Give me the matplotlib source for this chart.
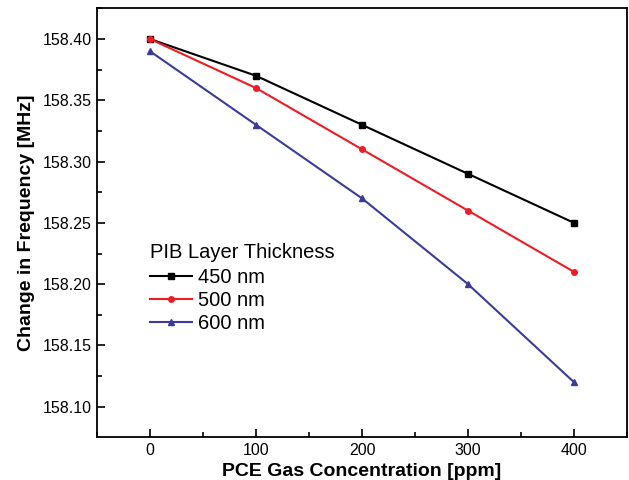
import matplotlib
matplotlib.use("Agg")
import matplotlib.pyplot as plt
from matplotlib.ticker import MultipleLocator, FormatStrFormatter

plt.rcParams['font.family'] = ['Liberation Sans', 'DejaVu Sans']

conc = [0, 100, 200, 300, 400]
f450 = [158.40, 158.37, 158.33, 158.29, 158.25]
f500 = [158.40, 158.36, 158.31, 158.26, 158.21]
f600 = [158.39, 158.33, 158.27, 158.20, 158.12]
labels = ['450 nm', '500 nm', '600 nm']

fig = plt.figure(figsize=(6.29, 4.8), dpi=100)
ax = fig.add_axes([97/629, 1-437/480, 530/629, 429/480])

ax.plot(conc, f450, color='black', marker='s', ms=4, lw=1.5, label=labels[0])
ax.plot(conc, f500, color='#ee1c24', marker='o', ms=4, lw=1.5, label=labels[1])
ax.plot(conc, f600, color='#3b3b9c', marker='^', ms=4.5, lw=1.5, label=labels[2])

ax.set_xlim(-50, 450)
ax.set_ylim(158.0753, 158.4253)
ax.xaxis.set_major_locator(MultipleLocator(100))
ax.xaxis.set_minor_locator(MultipleLocator(50))
ax.yaxis.set_major_locator(MultipleLocator(0.05))
ax.yaxis.set_minor_locator(MultipleLocator(0.025))
ax.yaxis.set_major_formatter(FormatStrFormatter('%.2f'))
ax.tick_params(which='both', direction='in', top=False, right=False, labelsize=11.5, width=1.2)
ax.tick_params(which='major', length=6, pad=4)
ax.tick_params(which='minor', length=3.5)
for s in ax.spines.values():
    s.set_linewidth(1.3)

ax.set_xlabel('PCE Gas Concentration [ppm]', fontsize=14, fontweight='bold', labelpad=4)
ax.set_ylabel('Change in Frequency [MHz]', fontsize=14, fontweight='bold', labelpad=5)

leg = ax.legend(title='PIB Layer Thickness', loc='upper left', bbox_to_anchor=(0.1, 0.452),
                frameon=False, fontsize=14.5, title_fontsize=14.5, handlelength=2.1,
                handletextpad=0.3, labelspacing=0.2, borderaxespad=0, borderpad=0)
leg._legend_box.align = 'left'
leg._legend_box.sep = 4

fig.savefig('out.png', dpi=100)
